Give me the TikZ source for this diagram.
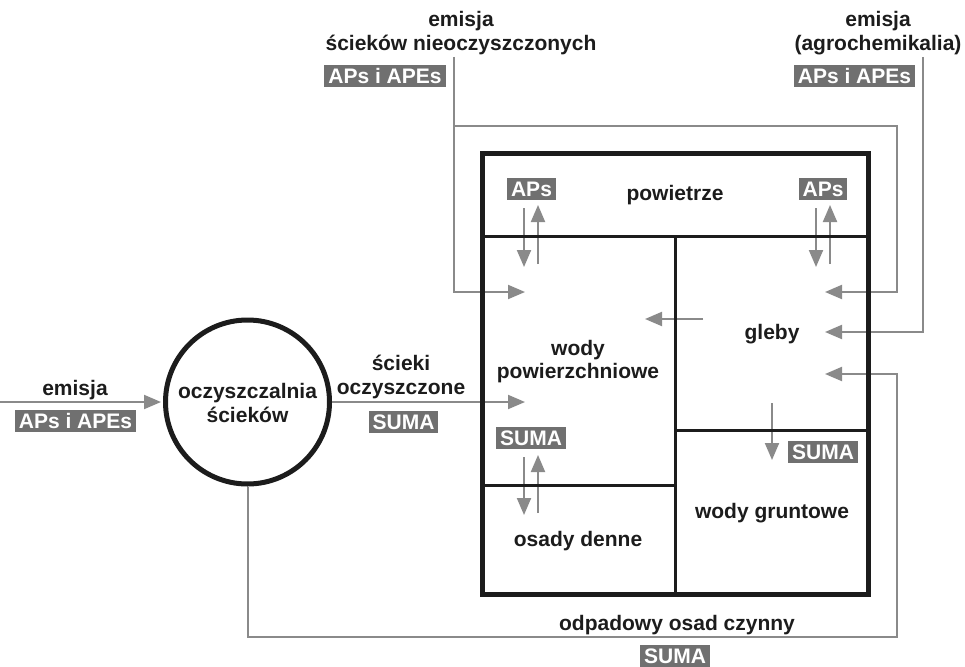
\documentclass[tikz,border=0pt]{standalone}
\usepackage{fontspec}
\setmainfont{Liberation Sans}
\usetikzlibrary{arrows.meta}
\definecolor{tagGray}{RGB}{112,112,112}
\definecolor{lineGray}{RGB}{138,138,138}
\definecolor{inkDark}{RGB}{28,28,28}
\tikzset{
  lbl/.style={font=\fontsize{21}{24}\selectfont\bfseries, text=inkDark, align=center, inner sep=0pt, anchor=base},
  tag/.style={fill=tagGray, text=white, font=\fontsize{21}{24}\selectfont\bfseries, inner xsep=4pt, inner ysep=3.5pt, text height=15pt, text depth=0pt},
  flow/.style={draw=lineGray, line width=2pt, -{Triangle[length=17pt,width=14pt]}},
  conn/.style={draw=lineGray, line width=2pt},
  outerwall/.style={draw=inkDark, line width=5pt},
  innerwall/.style={draw=inkDark, line width=3pt},
}
\begin{document}
\begin{tikzpicture}[x=1pt,y=-1pt]
\useasboundingbox (0,0) rectangle (965,666);

% ---- labels (base anchor = baseline of last line) ----
\node[lbl] (topLlbl) at (461,51) {emisja\\[0pt]ścieków nieoczyszczonych};
\node[tag] (topLtag) at (385,76.5) {APs i APEs};
\node[lbl] (topRlbl) at (878,51) {emisja\\[0pt](agrochemikalia)};
\node[tag] (topRtag) at (854.5,76.5) {APs i APEs};

\node[lbl] (leftlbl) at (75,395) {emisja};
\node[tag] (lefttag) at (75.5,421) {APs i APEs};

\node[circle, draw=inkDark, line width=5pt, minimum size=164pt, inner sep=0pt] (wwtp) at (247.5,402) {};
\node[lbl] (wwtplbl) at (247.5,422) {oczyszczalnia\\[0pt]ścieków};

\node[lbl] (efflbl) at (401,394) {ścieki\\[0pt]oczyszczone};
\node[tag] (efftag) at (403.5,422) {SUMA};

\node[lbl] (airlbl) at (675,200) {powietrze};
\node[tag] (airtagL) at (531.5,188.5) {APs};
\node[tag] (airtagR) at (823,188.5) {APs};

\node[lbl] (swlbl) at (578,378) {wody\\[-1pt]powierzchniowe};
\node[lbl] (soillbl) at (772,339) {gleby};
\node[lbl] (sedlbl) at (578,546) {osady denne};
\node[lbl] (gwlbl) at (772,518) {wody gruntowe};
\node[tag] (swtag) at (531,438) {SUMA};
\node[tag] (gwtag) at (823,451.5) {SUMA};

\node[lbl] (sludgelbl) at (677,630) {odpadowy osad czynny};
\node[tag] (sludgetag) at (675,656) {SUMA};

% ---- coordinates ----
\coordinate (inL) at (0,402);
\coordinate (swIn1) at (525,292);
\coordinate (swIn2) at (525,402);
\coordinate (soilIn1) at (825,292);
\coordinate (soilIn2) at (825,332);
\coordinate (soilIn3) at (825,374);
\coordinate (topLstart) at (454,57);
\coordinate (branch) at (454,126);
\coordinate (branchCorner) at (897,126);
\coordinate (topRstart) at (923,57);
\coordinate (sludgeCorner) at (897,637);
\coordinate (soilOut) at (703,319);
\coordinate (swFromSoil) at (645,319);
\coordinate (aLd1) at (524,208); \coordinate (aLd2) at (524,267);
\coordinate (aLu1) at (538,264); \coordinate (aLu2) at (538,205);
\coordinate (aRd1) at (816,208); \coordinate (aRd2) at (816,267);
\coordinate (aRu1) at (830,264); \coordinate (aRu2) at (830,205);
\coordinate (sDd1) at (524,457); \coordinate (sDd2) at (524,515);
\coordinate (sDu1) at (538,513); \coordinate (sDu2) at (538,455);
\coordinate (gwd1) at (772,403); \coordinate (gwd2) at (772,460);

% ---- connectors ----
\draw[flow, shorten >=2pt] (inL) -- (wwtp.west);
\draw[flow] (wwtp.east |- swIn2) -- (swIn2);
\draw[flow] (wwtp.south) |- (sludgeCorner) |- (soilIn3);
\draw[flow] (topLstart) |- (swIn1);
\draw[flow] (branch) -- (branchCorner) |- (soilIn1);
\draw[flow] (topRstart) |- (soilIn2);
\draw[flow] (soilOut) -- (swFromSoil);
\draw[flow] (aLd1) -- (aLd2);
\draw[flow] (aLu1) -- (aLu2);
\draw[flow] (aRd1) -- (aRd2);
\draw[flow] (aRu1) -- (aRu2);
\draw[flow] (sDd1) -- (sDd2);
\draw[flow] (sDu1) -- (sDu2);
\draw[flow] (gwd1) -- (gwd2);

% ---- compartments ----
\draw[innerwall] (482,236) -- (868,236);
\draw[innerwall] (675,236) -- (675,594);
\draw[innerwall] (482,485) -- (675,485);
\draw[innerwall] (675,430) -- (868,430);
\draw[outerwall] (482,153) rectangle (868,594);
\end{tikzpicture}
\end{document}
